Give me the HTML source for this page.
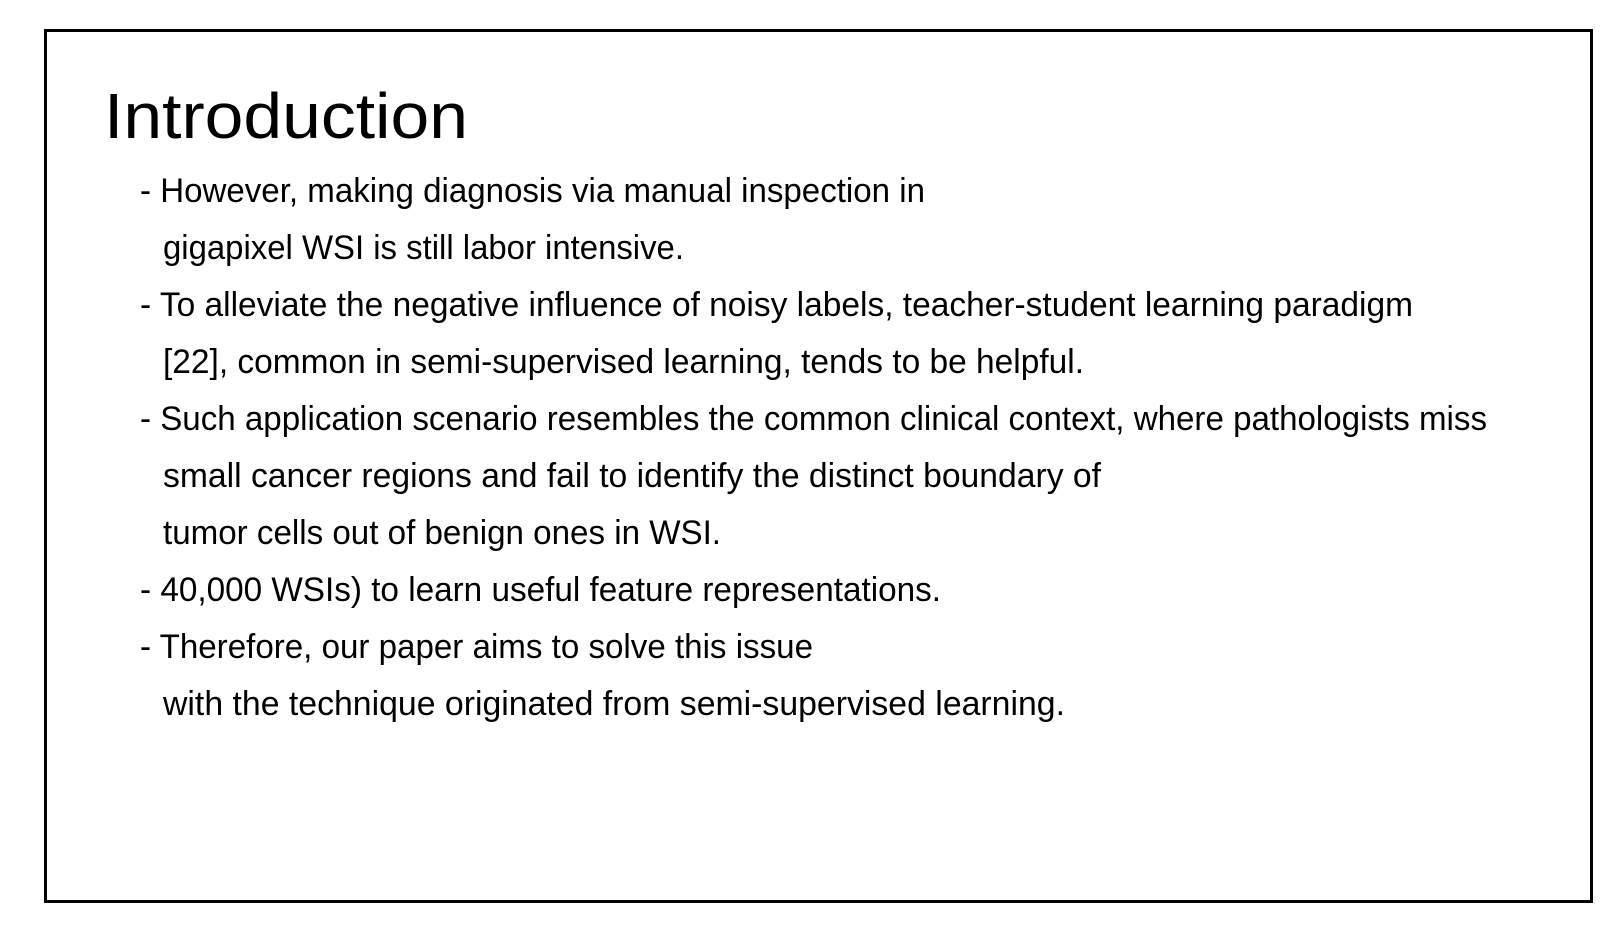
<!DOCTYPE html>
<html><head><meta charset="utf-8"><style>
html,body{margin:0;padding:0;background:#fff;width:1620px;height:944px;overflow:hidden}
#frame{position:absolute;left:44px;top:29px;width:1549px;height:874px;border:3px solid #000;box-sizing:border-box}
.t{position:absolute;white-space:nowrap;font-family:"Liberation Sans",sans-serif;color:#000;transform-origin:0 0;line-height:1}
#title{font-size:64px}
.l{font-size:34px}
</style></head><body>
<div id="frame"></div>
<div class="t" id="title" data-x="104" data-base="142" data-w="364">Introduction</div>
<div class="t l" data-x="140" data-base="205" data-w="785">- However, making diagnosis via manual inspection in</div>
<div class="t l" data-x="163" data-base="262" data-w="521">gigapixel WSI is still labor intensive.</div>
<div class="t l" data-x="140" data-base="319" data-w="1273">- To alleviate the negative influence of noisy labels, teacher-student learning paradigm</div>
<div class="t l" data-x="163" data-base="376" data-w="921">[22], common in semi-supervised learning, tends to be helpful.</div>
<div class="t l" data-x="140" data-base="433" data-w="1347">- Such application scenario resembles the common clinical context, where pathologists miss</div>
<div class="t l" data-x="163" data-base="490" data-w="938">small cancer regions and fail to identify the distinct boundary of</div>
<div class="t l" data-x="163" data-base="547" data-w="558">tumor cells out of benign ones in WSI.</div>
<div class="t l" data-x="140" data-base="604" data-w="801">- 40,000 WSIs) to learn useful feature representations.</div>
<div class="t l" data-x="140" data-base="661" data-w="673">- Therefore, our paper aims to solve this issue</div>
<div class="t l" data-x="163" data-base="718" data-w="902">with the technique originated from semi-supervised learning.</div>
<script>
document.querySelectorAll('.t').forEach(function(el){
  var fs=parseFloat(getComputedStyle(el).fontSize);
  var x=+el.dataset.x, b=+el.dataset.base, w=+el.dataset.w;
  el.style.left=x+'px';
  el.style.top=(b-fs*0.905)+'px';
  var cw=el.getBoundingClientRect().width;
  el.style.transform='scaleX('+(w/cw)+')';
});
</script>
</body></html>
